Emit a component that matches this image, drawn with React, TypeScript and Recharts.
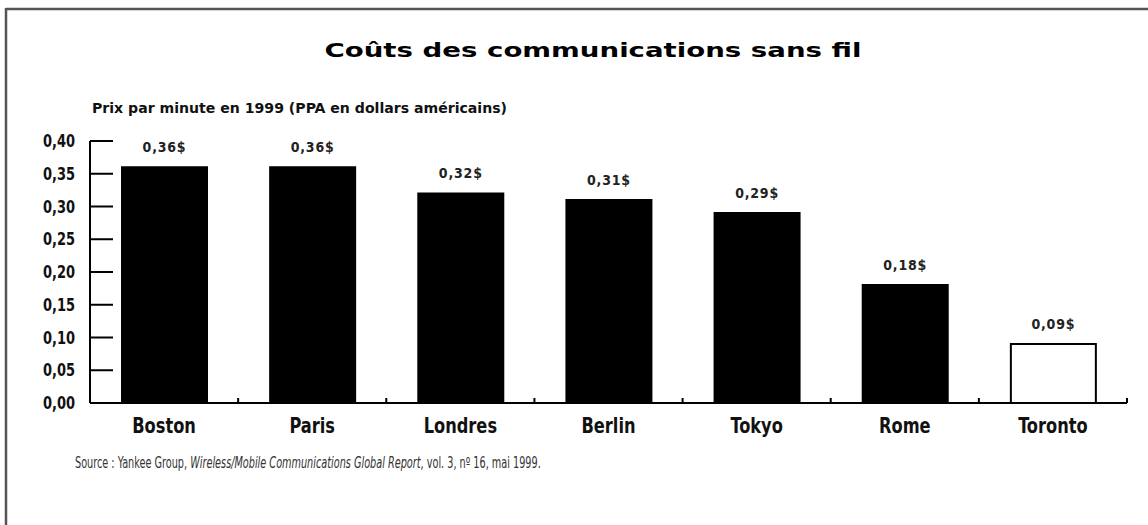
import React from 'react';
import { BarChart, Bar, XAxis, YAxis, Cell, LabelList } from 'recharts';

const cities = ['Boston', 'Paris', 'Londres', 'Berlin', 'Tokyo', 'Rome', 'Toronto'];
const prices = [0.36, 0.36, 0.32, 0.31, 0.29, 0.18, 0.09];
const priceLabels = ['0,36$', '0,36$', '0,32$', '0,31$', '0,29$', '0,18$', '0,09$'];
const barFills = ['#000', '#000', '#000', '#000', '#000', '#000', '#fff'];
const yTicks = [0, 0.05, 0.1, 0.15, 0.2, 0.25, 0.3, 0.35, 0.4];

const title = 'Coûts des communications sans fil';
const subtitle = 'Prix par minute en 1999 (PPA en dollars américains)';
const sourceLead = 'Source : Yankee Group, ';
const sourceTitle = 'Wireless/Mobile Communications Global Report';
const sourceTail = ', vol. 3, nº 16, mai 1999.';

const data = cities.map((c, i) => ({ city: c, price: prices[i], label: priceLabels[i] }));

const NARROW = "'DejaVu Sans Condensed', 'DejaVu Sans', sans-serif";
const WIDE = "'DejaVu Sans', 'Liberation Sans', sans-serif";

const fmt = (v: number) => v.toFixed(2).replace('.', ',');

const YTick = (props: any) => {
  const { x, y, payload } = props;
  const ax = x + 15;
  return (
    <g>
      <line x1={ax} x2={ax + 23} y1={y} y2={y} stroke="#000" strokeWidth={2} />
      <text
        transform={`translate(${x},${y + 6}) scale(0.85,1)`}
        textAnchor="end"
        fontFamily={NARROW}
        fontWeight="bold"
        fontSize={17}
        fill="#111"
      >
        {fmt(payload.value)}
      </text>
    </g>
  );
};

const XTick = (props: any) => {
  const { x, y, payload } = props;
  const off = payload && typeof payload.offset === 'number' ? payload.offset : 0;
  return (
    <g>
      {off > 0 && <line x1={x + off} x2={x + off} y1={y} y2={y - 5} stroke="#000" strokeWidth={2} />}
      <text
        transform={`translate(${x},${y + 30}) scale(0.86,1)`}
        textAnchor="middle"
        fontFamily={NARROW}
        fontWeight="bold"
        fontSize={21}
        fill="#111"
      >
        {payload.value}
      </text>
    </g>
  );
};

export default function App() {
  return (
    <div style={{ position: 'absolute', left: 0, top: 0, width: 1148, height: 525, background: '#fff' }}>
      <BarChart
        width={1148}
        height={525}
        data={data}
        margin={{ top: 141, right: 21, bottom: 92, left: 0 }}
      >
        <XAxis
          dataKey="city"
          height={30}
          tickLine={false}
          tickSize={0}
          tickMargin={0}
          tick={<XTick />}
          axisLine={{ stroke: '#000', strokeWidth: 2 }}
          interval={0}
        />
        <YAxis
          domain={[0, 0.4]}
          ticks={yTicks}
          width={90}
          tickLine={false}
          tickSize={0}
          tickMargin={15}
          tick={<YTick />}
          axisLine={{ stroke: '#000', strokeWidth: 2 }}
          interval={0}
        />
        <Bar dataKey="price" barSize={85} isAnimationActive={false} stroke="#000" strokeWidth={2}>
          {data.map((d, i) => (
            <Cell key={d.city} fill={barFills[i]} />
          ))}
          <LabelList
            dataKey="label"
            position="top"
            offset={15}
            fontFamily={NARROW}
            fontWeight="bold"
            fontSize={14}
            fill="#222"
            letterSpacing={0.8}
          />
        </Bar>
      </BarChart>
      <svg width={1148} height={525} style={{ position: 'absolute', left: 0, top: 0, pointerEvents: 'none' }}>
        <line x1={6} x2={1148} y1={9} y2={9} stroke="#555" strokeWidth={2.5} />
        <line x1={6} x2={6} y1={8} y2={525} stroke="#555" strokeWidth={2.5} />
        <text x={593} y={57} textAnchor="middle" fontFamily={WIDE} fontWeight="bold" fontSize={19} fill="#000" textLength={537} lengthAdjust="spacingAndGlyphs">
          {title}
        </text>
        <text x={92} y={113} fontFamily={NARROW} fontWeight="bold" fontSize={14} fill="#111" textLength={415} lengthAdjust="spacingAndGlyphs">
          {subtitle}
        </text>
        <text transform="translate(75,468) scale(0.72,1)" fontFamily={NARROW} fontSize={15} fill="#333">
          {sourceLead}
          <tspan fontStyle="italic">{sourceTitle}</tspan>
          {sourceTail}
        </text>
      </svg>
    </div>
  );
}
